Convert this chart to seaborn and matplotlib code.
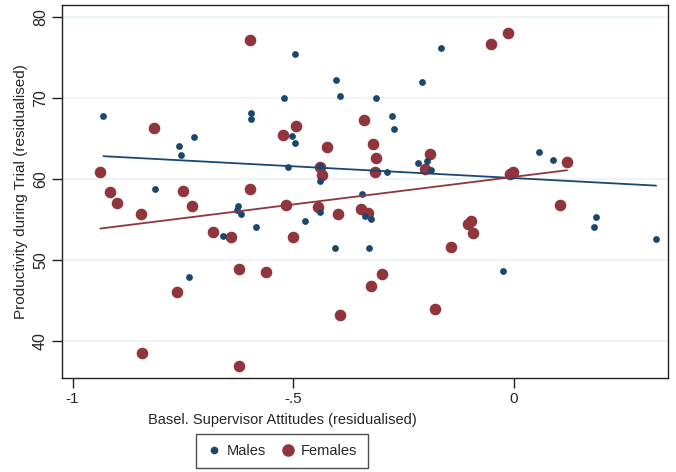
import matplotlib
matplotlib.use("Agg")
import matplotlib.pyplot as plt
import seaborn as sns
import pandas as pd
from matplotlib.lines import Line2D

male_x = [-0.930, -0.497, -0.521, -0.595, -0.595, -0.724, -0.759, -0.755, -0.503, -0.497,
          -0.513, -0.813, -0.403, -0.395, -0.313, -0.165, -0.209, -0.277, -0.271, -0.439,
          -0.439, -0.287, -0.218, -0.197, -0.187, -0.345, 0.057, 0.088, -0.625, -0.628,
          -0.619, -0.659, -0.585, -0.737, -0.474, -0.439, -0.338, -0.325, -0.405, -0.328,
          -0.025, 0.185, 0.181, 0.322]
male_y = [67.8, 75.4, 70.0, 68.1, 67.4, 65.2, 64.0, 62.9, 65.3, 64.4,
          61.5, 58.7, 72.2, 70.2, 69.9, 76.1, 71.9, 67.8, 66.1, 61.6,
          59.7, 60.8, 61.9, 62.2, 61.1, 58.1, 63.3, 62.3, 56.6, 56.1,
          55.7, 52.9, 54.0, 47.9, 54.8, 55.9, 55.4, 55.0, 51.4, 51.4,
          48.6, 55.3, 54.0, 52.5]

female_x = [-0.597, -0.816, -0.493, -0.523, -0.937, -0.915, -0.750, -0.597, -0.900, -0.730,
            -0.845, -0.516, -0.681, -0.642, -0.500, -0.622, -0.562, -0.763, -0.842, -0.622,
            -0.443, -0.398, -0.347, -0.330, -0.300, -0.323, -0.394, -0.178, -0.143, -0.105,
            -0.097, -0.092, 0.104, -0.424, -0.340, -0.320, -0.312, -0.314, -0.440, -0.434,
            -0.190, -0.202, -0.051, -0.014, -0.009, -0.002, 0.120]
female_y = [77.1, 66.2, 66.5, 65.4, 60.8, 58.4, 58.5, 58.7, 57.0, 56.6,
            55.6, 56.8, 53.4, 52.8, 52.8, 48.9, 48.5, 46.0, 38.5, 36.9,
            56.5, 55.7, 56.3, 55.8, 48.2, 46.8, 43.2, 43.9, 51.6, 54.4,
            54.8, 53.3, 56.8, 63.9, 67.2, 64.3, 62.6, 60.8, 61.4, 60.5,
            63.1, 61.2, 76.6, 78.0, 60.6, 60.8, 62.0]

x_ticks = [-1, -0.5, 0]
x_tick_labels = ["-1", "-.5", "0"]
y_ticks = [40, 50, 60, 70, 80]
series_labels = ["Males", "Females"]

navy = "#1a476f"
maroon = "#90353b"

sns.set_theme(style="white")
plt.rcParams['font.family'] = ['Liberation Sans', 'DejaVu Sans']

fig = plt.figure(figsize=(6.76, 4.72), dpi=100)
ax = fig.add_axes([62/676, 1-378/472, (668-62)/676, (378-5)/472])

males = pd.DataFrame({"x": male_x, "y": male_y})
females = pd.DataFrame({"x": female_x, "y": female_y})

sns.regplot(data=males, x="x", y="y", ax=ax, ci=None, truncate=True,
            scatter_kws=dict(s=24, color=navy, linewidths=0, alpha=1, zorder=3),
            line_kws=dict(color=navy, lw=1.3, zorder=4))
sns.regplot(data=females, x="x", y="y", ax=ax, ci=None, truncate=True,
            scatter_kws=dict(s=70, color=maroon, linewidths=0, alpha=1, zorder=2),
            line_kws=dict(color=maroon, lw=1.3, zorder=4))

ax.set_xlim(-1.024, 0.349)
ax.set_ylim(35.4, 81.44)
ax.set_xticks(x_ticks)
ax.set_xticklabels(x_tick_labels, fontsize=11)
ax.set_yticks(y_ticks)
ax.set_yticklabels([str(v) for v in y_ticks], fontsize=11.5, rotation=90, va="center")
ax.tick_params(axis="both", direction="out", length=7, width=1, color="#222222",
               bottom=True, left=True, pad=3)
ax.grid(axis="y", color="#eaf2f3", lw=1.2)
ax.set_axisbelow(True)
for sp in ax.spines.values():
    sp.set_color("#222222")
    sp.set_linewidth(1.0)

ax.set_xlabel("Basel. Supervisor Attitudes (residualised)", fontsize=10.5, labelpad=4)
ax.xaxis.set_label_coords((282-62)/606, -0.095)
ax.set_ylabel("Productivity during Trial (residualised)", fontsize=11, labelpad=4)

handles = [Line2D([], [], ls="", marker="o", ms=4.5, color=navy, mec=navy),
           Line2D([], [], ls="", marker="o", ms=8, color=maroon, mec=maroon)]
leg = fig.legend(handles, series_labels, loc="center", bbox_to_anchor=(282/676, 1-451/472),
                 ncol=2, frameon=True, fancybox=False, edgecolor="#222222",
                 prop=dict(size=10.5), handletextpad=0.4, columnspacing=1.0,
                 borderpad=0.7, handlelength=1.0, borderaxespad=0)
leg.get_frame().set_linewidth(1.0)

fig.savefig("out.png", dpi=100)
